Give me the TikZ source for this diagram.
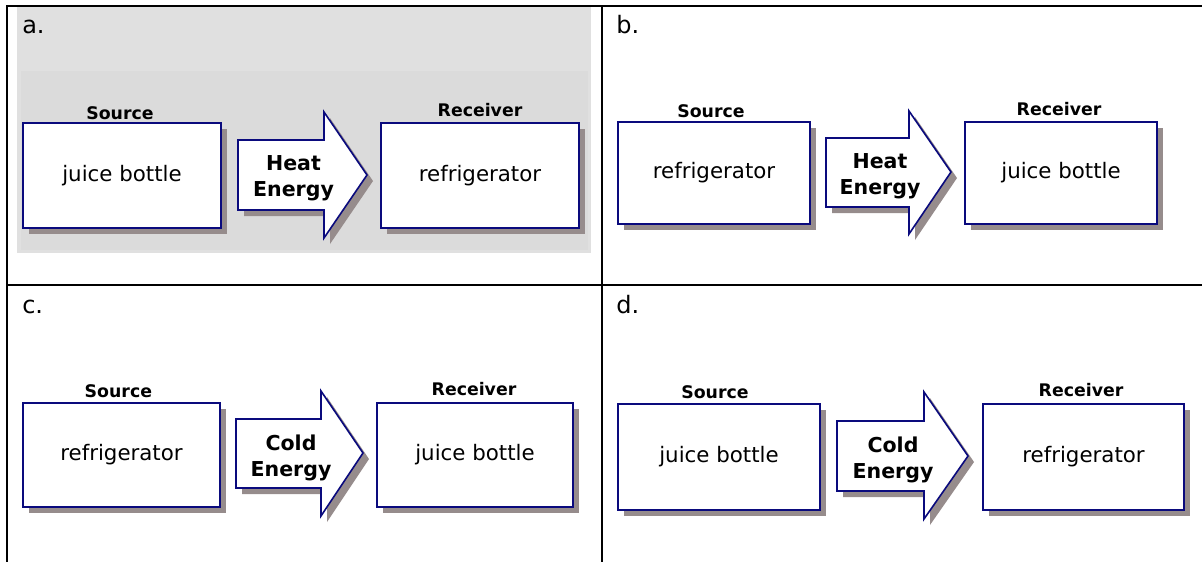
\documentclass[tikz,border=0pt]{standalone}
\usepackage{fontspec}
\setmainfont{DejaVu Sans}
\usetikzlibrary{shadows}
\definecolor{navyc}{RGB}{10,10,125}
\definecolor{shadowc}{RGB}{150,140,140}
\definecolor{bgouter}{RGB}{224,224,224}
\definecolor{bginner}{RGB}{219,219,219}
\def\px{0.75pt}
\tikzset{
  tableline/.style={line width=1.5pt, black},
  shad/.style={drop shadow={shadow xshift=4.5pt, shadow yshift=-4.5pt, fill=shadowc, opacity=1}},
  box/.style={draw=navyc, line width=1.2pt, fill=white, shad, inner sep=0pt,
     font=\fontsize{16}{19}\selectfont},
  bigarrow/.style={draw=navyc, line width=1.2pt, fill=white, shad, line join=miter},
  arrowtext/.style={align=center, inner sep=0pt, font=\fontsize{15.4}{19.5}\selectfont\bfseries},
  lbl/.style={anchor=base, inner sep=0pt, font=\fontsize{13}{15}\selectfont\bfseries},
  letter/.style={anchor=base west, inner sep=0pt, font=\fontsize{18}{21}\selectfont}
}
\begin{document}
\begin{tikzpicture}[x=0.75pt, y=-0.75pt]
\useasboundingbox (0,0) rectangle (1202,562);
% panel a background
\fill[bgouter] (17,7) rectangle (591,253);
\fill[bginner] (21,71) rectangle (588,250);
% table lines
\draw[tableline] (6,6) -- (1202,6);
\draw[tableline] (6,284.5) -- (1202,284.5);
\draw[tableline] (7,5) -- (7,562);
\draw[tableline] (602,5) -- (602,562);

% ---------- panel a ----------
\node[letter] (la) at (22,33) {a.};
\node[box, minimum width={198*\px}, minimum height={105*\px}] (sa) at (122,175.5) {juice bottle};
\node[box, minimum width={198*\px}, minimum height={105*\px}] (ra) at (480,175.5) {refrigerator};
\node[lbl] (sla) at (120,119) {Source};
\node[lbl] (rla) at (480,116.7) {Receiver};
\draw[bigarrow] (238,140) -- (324,140) -- (324,112) -- (367,175) -- (324,238) -- (324,210) -- (238,210) -- cycle;
\node[arrowtext] (ea) at (293.5,178) {Heat\\Energy};

% ---------- panel b ----------
\node[letter] (lb) at (616,33) {b.};
\node[box, minimum width={192*\px}, minimum height={102*\px}] (sb) at (714,173) {refrigerator};
\node[box, minimum width={192*\px}, minimum height={102*\px}] (rb) at (1061,173) {juice bottle};
\node[lbl] (slb) at (711,117) {Source};
\node[lbl] (rlb) at (1059,115.7) {Receiver};
\draw[bigarrow] (826,138) -- (909,138) -- (909,111) -- (951,172) -- (909,234) -- (909,207) -- (826,207) -- cycle;
\node[arrowtext] (eb) at (880,176) {Heat\\Energy};

% ---------- panel c ----------
\node[letter] (lc) at (22,313) {c.};
\node[box, minimum width={197*\px}, minimum height={104*\px}] (sc) at (121.5,455) {refrigerator};
\node[box, minimum width={196*\px}, minimum height={104*\px}] (rc) at (475,455) {juice bottle};
\node[lbl] (slc) at (118.4,397) {Source};
\node[lbl] (rlc) at (474,395.7) {Receiver};
\draw[bigarrow] (236,419) -- (321,419) -- (321,391) -- (363,453) -- (321,516) -- (321,488) -- (236,488) -- cycle;
\node[arrowtext] (ec) at (291,458) {Cold\\Energy};

% ---------- panel d ----------
\node[letter] (ld) at (616,313) {d.};
\node[box, minimum width={202*\px}, minimum height={106*\px}] (sd) at (719,457) {juice bottle};
\node[box, minimum width={201*\px}, minimum height={106*\px}] (rd) at (1083.5,457) {refrigerator};
\node[lbl] (sld) at (715,398) {Source};
\node[lbl] (rld) at (1081,396.7) {Receiver};
\draw[bigarrow] (837,421) -- (924,421) -- (924,392) -- (968,456) -- (924,519) -- (924,491) -- (837,491) -- cycle;
\node[arrowtext] (ed) at (893,460) {Cold\\Energy};
\end{tikzpicture}
\end{document}
